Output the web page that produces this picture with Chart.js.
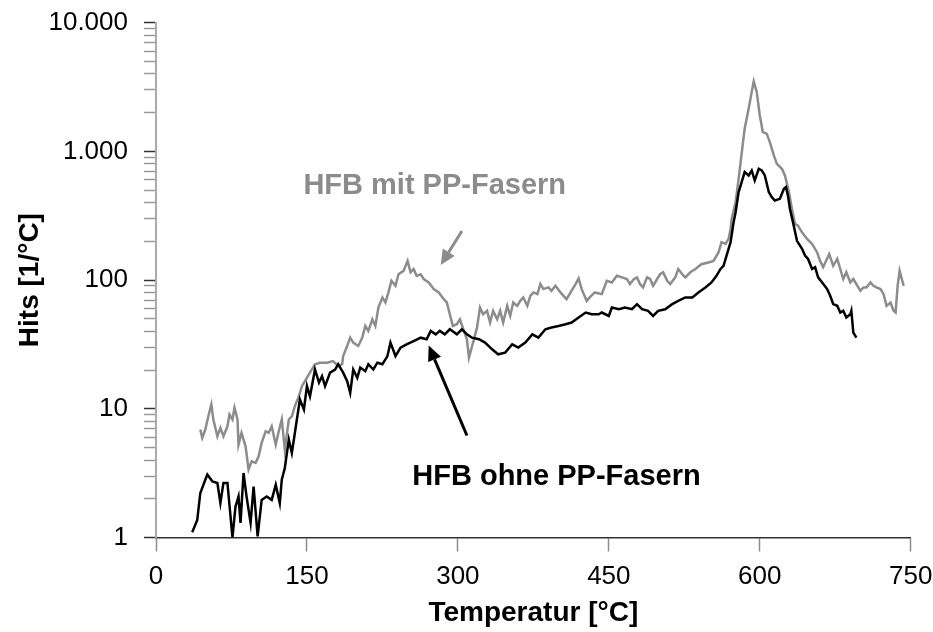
<!DOCTYPE html>
<html>
<head>
<meta charset="utf-8">
<script src="https://cdn.jsdelivr.net/npm/chart.js@4.4.1/dist/chart.umd.min.js"></script>
<style>
  html, body { margin: 0; padding: 0; background: #fff; }
</style>
</head>
<body>
<canvas id="chart" width="933" height="632"></canvas>
<script>
// HFB ohne PP-Fasern (black)
const ohneTemp = [36,41,44,49,51,56,61,64,67,71,76,79,82,84,87,90,94,97,101,105,110,115,119,123,125,128,132,135,140,143,147,150,153,158,162,165,168,173,178,181,186,190,193,196,200,203,208,211,216,220,225,230,233,238,243,249,256,263,269,273,278,282,287,292,299,304,309,314,321,327,334,340,347,354,360,367,374,380,387,393,400,407,413,420,427,433,440,443,450,453,460,466,473,478,483,489,494,499,506,513,519,526,533,539,546,552,557,561,564,567,571,574,576,579,582,585,589,592,595,599,602,605,607,609,612,615,620,624,626,628,630,633,637,642,645,648,652,655,658,662,667,670,673,677,680,683,686,690,691,693,696];
const ohneHits = [1.1,1.37,2.21,2.81,3.08,2.73,2.65,1.85,2.65,2.65,1.0,1.74,2.08,1.3,3.17,2.08,1.3,2.49,1.02,1.96,2.08,1.96,2.57,1.85,2.81,3.47,5.76,4.54,8.26,11.8,9.87,15,12.5,20.2,16,17.9,15,19.1,20.2,22.2,19.1,16.4,13.3,20.2,17.4,20.9,19.6,22.2,20.2,22.8,22.2,25.7,32.7,25.7,29.9,31.7,33.6,35.7,34.7,40.3,37.9,40.3,37.9,41.5,37.9,41.5,37.9,35.7,34.7,32.7,29,26.5,27.3,31.7,29.9,32.7,37.9,35.7,41.5,42.8,44,45.4,46.8,51.2,56,54.3,54.3,56,52.7,61.2,59.4,61.2,59.4,65,59.4,57.7,52.7,57.7,59.4,65,69,73.3,73.3,80.2,87.7,95.9,108,122,129,155,197,282,337,483,578,691,650,711,594,733,711,650,560,483,441,415,428,512,528,454,357,282,202,175,155,146,122,126,105,95.9,85.1,75.5,65,63.1,56,57.7,51.2,54.3,57.7,39.1,35.7];

// HFB mit PP-Fasern (grey)
const mitTemp = [44,46,49,52,55,57,61,64,67,71,73,76,78,81,82,85,89,92,95,99,102,105,109,112,115,119,122,125,128,132,135,138,142,145,148,153,158,163,170,176,181,185,186,190,193,196,201,205,208,211,215,218,221,225,228,231,234,238,241,246,250,253,256,259,263,266,271,276,281,286,289,292,295,299,302,306,309,311,316,319,322,325,329,332,335,339,342,345,349,352,355,359,362,365,369,372,375,379,382,385,390,393,397,402,405,408,412,417,420,423,428,431,436,443,448,453,458,463,468,471,475,478,481,484,488,491,494,498,501,504,508,511,516,519,523,526,531,536,542,549,554,559,562,566,569,571,572,576,579,582,585,589,592,594,597,600,603,607,610,614,617,622,625,629,632,635,638,642,647,652,657,660,663,669,673,677,680,683,686,690,693,696,700,703,706,710,713,716,720,723,726,730,733,735,737,739,743];
const mitHits = [6.9,5.94,6.9,8.75,10.8,8.26,6.11,7.11,6.11,7.31,9.03,8.26,10.2,8.26,5.27,6.5,5.11,3.37,3.91,3.8,4.27,5.43,6.69,6.5,7.31,5.27,6.69,8.26,4.82,8.26,8.75,10.5,12.5,15,16.4,19.1,22.2,22.8,22.8,23.5,21.5,22.2,25.7,30.8,35.7,32.7,30.8,35.7,44,40.3,49.6,44,61.2,73.3,67,80.2,98.8,90.3,111,118,141,115,122,108,111,102,95.9,85.1,80.2,71.1,67,54.3,44,45.4,49.6,40.3,34.7,25,34.7,42.8,61.2,54.3,57.7,46.8,57.7,49.6,57.7,46.8,63.1,52.7,67,63.1,69,73.3,63.1,75.5,80.2,77.8,93.1,85.1,87.7,82.6,90.3,80.2,75.5,71.1,80.2,93.1,103,85.1,69,73.3,80.2,77.8,98.8,95.9,108,105,102,93.1,102,105,93.1,87.7,105,102,90.3,102,111,115,98.8,93.1,105,122,111,105,115,122,133,137,141,164,197,191,209,250,299,403,612,960,1500,2150,2900,3500,2900,1910,1420,1370,1180,930,800,733,650,483,357,273,265,235,209,191,164,141,126,159,129,146,122,102,115,95.9,102,93.1,82.6,87.7,87.7,95.9,90.3,87.7,85.1,77.8,63.1,67,57.7,56,90.3,118,90.3];

const xTicks = [0, 150, 300, 450, 600, 750];
const yMajor = [1, 10, 100, 1000, 10000];
const yLabels = ['1', '10', '100', '1.000', '10.000'];
const yMinorSteps = [2, 3, 4, 5, 6, 7, 8, 9];

// labels with arrows, in data units [temperature, hits]
const notes = [
  { text: 'HFB mit PP-Fasern', color: '#8c8c8c', at: [277, 540], from: [304, 241], to: [283, 131] },
  { text: 'HFB ohne PP-Fasern', color: '#000000', at: [398, 2.97], from: [309, 6.2], to: [271, 31] }
];

const yTickValues = [];
yMajor.forEach((m, i) => {
  yTickValues.push(m);
  if (i < yMajor.length - 1) yMinorSteps.forEach(s => yTickValues.push(m * s));
});

const FONT = '"Liberation Sans", Arial, sans-serif';

// keep the plot area where the layout padding puts it
function noLabelPadding(s) {
  s.paddingTop = 0;
  s.paddingBottom = 0;
  s.paddingLeft = 0;
  s.paddingRight = 0;
}

const arrowNotes = {
  id: 'arrowNotes',
  afterDatasetsDraw(chart) {
    const { ctx, scales: { x, y } } = chart;
    const px = v => [x.getPixelForValue(v[0]), y.getPixelForValue(v[1])];
    notes.forEach(n => {
      const [x1, y1] = px(n.from);
      const [x2, y2] = px(n.to);
      const [tx, ty] = px(n.at);
      const ang = Math.atan2(y2 - y1, x2 - x1);
      const head = 15, half = 7;
      const bx = x2 - head * Math.cos(ang), by = y2 - head * Math.sin(ang);
      ctx.save();
      ctx.strokeStyle = n.color;
      ctx.fillStyle = n.color;
      ctx.lineWidth = 3;
      ctx.beginPath();
      ctx.moveTo(x1, y1);
      ctx.lineTo(bx, by);
      ctx.stroke();
      ctx.beginPath();
      ctx.moveTo(x2, y2);
      ctx.lineTo(bx + half * Math.sin(ang), by - half * Math.cos(ang));
      ctx.lineTo(bx - half * Math.sin(ang), by + half * Math.cos(ang));
      ctx.closePath();
      ctx.fill();
      ctx.font = 'bold 29px ' + FONT;
      ctx.textAlign = 'center';
      ctx.textBaseline = 'middle';
      ctx.fillText(n.text, tx, ty);
      ctx.restore();
    });
  }
};

new Chart(document.getElementById('chart'), {
  type: 'line',
  data: {
    datasets: [
      {
        label: 'HFB ohne PP-Fasern',
        data: ohneTemp.map((t, i) => ({ x: t, y: ohneHits[i] })),
        borderColor: '#000000',
        borderWidth: 2.5,
        pointRadius: 0,
        tension: 0
      },
      {
        label: 'HFB mit PP-Fasern',
        data: mitTemp.map((t, i) => ({ x: t, y: mitHits[i] })),
        borderColor: '#8c8c8c',
        borderWidth: 2.5,
        pointRadius: 0,
        tension: 0
      }
    ]
  },
  options: {
    responsive: false,
    animation: false,
    layout: { padding: { left: 0, right: 22.3, top: 22.7, bottom: 0 } },
    plugins: { legend: { display: false }, tooltip: { enabled: false } },
    scales: {
      x: {
        type: 'linear',
        min: 0,
        max: 750,
        afterBuildTicks: s => { s.ticks = xTicks.map(v => ({ value: v })); },
        afterFit: s => { s.height = 94.5; noLabelPadding(s); },
        ticks: { color: '#000', font: { family: FONT, size: 26 }, padding: 10, maxRotation: 0 },
        grid: { drawOnChartArea: false, tickLength: 14, tickColor: '#8c8c8c', tickWidth: 1.5 },
        border: { color: '#333', width: 1.5 },
        title: {
          display: true,
          text: 'Temperatur [°C]',
          color: '#000',
          font: { family: FONT, size: 28, weight: 'bold' },
          padding: { top: 0, bottom: 2 }
        }
      },
      y: {
        type: 'logarithmic',
        min: 1,
        max: 10000,
        afterBuildTicks: s => { s.ticks = yTickValues.map(v => ({ value: v, major: yMajor.includes(v) })); },
        afterFit: s => { s.width = 156; noLabelPadding(s); },
        ticks: {
          color: '#000',
          autoSkip: false,
          font: { family: FONT, size: 26 },
          padding: 16,
          callback: v => {
            const i = yMajor.indexOf(v);
            return i >= 0 ? yLabels[i] : '';
          }
        },
        grid: {
          drawOnChartArea: false,
          tickLength: 12,
          tickWidth: 1.5,
          tickColor: c => (c.tick && yMajor.includes(c.tick.value)) ? '#333' : '#999'
        },
        border: { color: '#aaa', width: 2 },
        title: {
          display: true,
          text: 'Hits [1/°C]',
          color: '#000',
          font: { family: FONT, size: 28, weight: 'bold' },
          padding: { top: 13, bottom: 0 }
        }
      }
    }
  },
  plugins: [arrowNotes]
});
</script>
</body>
</html>
